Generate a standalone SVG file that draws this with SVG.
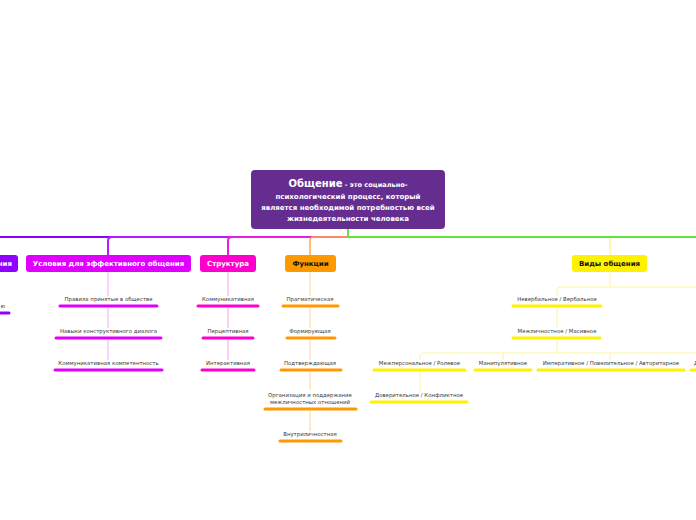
<svg xmlns="http://www.w3.org/2000/svg" width="696" height="520" viewBox="0 0 696 520">
<style>
.main{font-family:"DejaVu Sans",Verdana,sans-serif;font-weight:bold;font-size:7px;text-anchor:middle}
.sub{font-family:"DejaVu Sans",Verdana,sans-serif;font-size:5.4px;fill:#3a3a3a;text-anchor:middle}
.ul{stroke-width:3;stroke-linecap:round;fill:none}
.c{fill:none}
</style>
<rect width="696" height="520" fill="#ffffff"/>
<g id="connectors">
  <path class="c" d="M348 229 V237 H0" stroke="#8a00ff" stroke-width="2"/>
  <path class="c" d="M348 237 H112 Q108 237 108 241 V255" stroke="#b21cff" stroke-width="2"/>
  <path class="c" d="M348 237 H232 Q228 237 228 241 V255" stroke="#e81ee0" stroke-width="2"/>
  <path class="c" d="M348 237 H314 Q310 237 310 241 V255" stroke="#ffab40" stroke-width="1.5"/>
  <path class="c" d="M348 229 V237 H696" stroke="#5ee63a" stroke-width="2"/>
  <path class="c" d="M610 238 V255" stroke="#fff59a" stroke-width="1.5"/>
  <path class="c" d="M108 272 V296 M108 308 V328 M108 340 V360" stroke="#f7a6ff" stroke-width="1"/>
  <path class="c" d="M228 272 V296 M228 308 V328 M228 340 V360" stroke="#ff9ee8" stroke-width="1"/>
  <path class="c" d="M310 272 V296 M310 308 V328 M310 340 V360 M310 372 V390 M310 411 V431" stroke="#ffd39a" stroke-width="1"/>
  <path class="c" d="M610 272 V287 M696 287 H561 Q557 287 557 291 V296 M557 308 V328" stroke="#fff59a" stroke-width="1"/>
  <path class="c" d="M557 340 V353 M696 353 H424 Q420 353 420 357 V360 M503 353 V360 M610 353 V360 M420 372 V392" stroke="#fff59a" stroke-width="1"/>
</g>
<g id="center">
  <rect x="251" y="170" width="194" height="59" rx="4" fill="#662d91"/>
  <text class="main" x="348" y="187" fill="#ffffff"><tspan font-size="10">Общение</tspan><tspan font-size="6.6"> - это социально-</tspan></text>
  <text class="main" x="348" y="198.5" fill="#ffffff" font-size="6.6">психологический процесс, который</text>
  <text class="main" x="348" y="209.5" fill="#ffffff" font-size="6.6">является необходимой потребностью всей</text>
  <text class="main" x="348" y="220.5" fill="#ffffff" font-size="6.6">жизнедеятельности человека</text>
</g>
<g id="node-left">
  <rect x="-40" y="255" width="58" height="17" rx="3" fill="#8f00ff"/>
  <text class="main" x="12" y="266" fill="#ffffff" style="text-anchor:end">ния</text>
  <text class="sub" x="5" y="308" style="text-anchor:end">ю</text>
  <path class="ul" d="M-5 313 H9" stroke="#8f00ff"/>
</g>
<g id="node-usloviya">
  <rect x="26" y="255" width="165" height="17" rx="3" fill="#e100ff"/>
  <text class="main" x="108.5" y="266" fill="#ffffff">Условия для эффективного общения</text>
</g>
<g id="u1"><text class="sub" x="108.5" y="301">Правила принятые в обществе</text><path class="ul" d="M60 306 H157" stroke="#e100ff"/></g>
<g id="u2"><text class="sub" x="108.5" y="333">Навыки конструктивного диалога</text><path class="ul" d="M56 338 H161" stroke="#e100ff"/></g>
<g id="u3"><text class="sub" x="108.5" y="365">Коммуникативная компетентность</text><path class="ul" d="M55 370 H162" stroke="#e100ff"/></g>
<g id="node-struktura">
  <rect x="200" y="255" width="56" height="17" rx="3" fill="#ff00cc"/>
  <text class="main" x="228" y="266" fill="#ffffff">Структура</text>
</g>
<g id="s1"><text class="sub" x="228" y="301">Коммуникативная</text><path class="ul" d="M198 306 H258" stroke="#ff00cc"/></g>
<g id="s2"><text class="sub" x="228" y="333">Перцептивная</text><path class="ul" d="M203 338 H253" stroke="#ff00cc"/></g>
<g id="s3"><text class="sub" x="228" y="365">Интерактивная</text><path class="ul" d="M202 370 H254" stroke="#ff00cc"/></g>
<g id="node-funktsii">
  <rect x="285" y="255" width="51" height="17" rx="3" fill="#ff9900"/>
  <text class="main" x="310.5" y="266" fill="#111111">Функции</text>
</g>
<g id="f1"><text class="sub" x="310" y="301">Прагматическая</text><path class="ul" d="M283 306 H338" stroke="#ff9900"/></g>
<g id="f2"><text class="sub" x="310" y="333">Формирующая</text><path class="ul" d="M287 338 H335" stroke="#ff9900"/></g>
<g id="f3"><text class="sub" x="310" y="365">Подтверждающая</text><path class="ul" d="M281 370 H341" stroke="#ff9900"/></g>
<g id="f4"><text class="sub" x="310" y="397">Организация и поддержание</text><text class="sub" x="310" y="404">межличностных отношений</text><path class="ul" d="M265 409 H356" stroke="#ff9900"/></g>
<g id="f5"><text class="sub" x="310" y="436">Внутриличностная</text><path class="ul" d="M280 441 H341" stroke="#ff9900"/></g>
<g id="node-vidy">
  <rect x="572" y="255" width="75" height="17" rx="3" fill="#fff200"/>
  <text class="main" x="609.5" y="266" fill="#111111">Виды общения</text>
</g>
<g id="v1"><text class="sub" x="557" y="301">Невербальное / Вербальное</text><path class="ul" d="M513 306 H601" stroke="#fff200"/></g>
<g id="v2"><text class="sub" x="557" y="333">Межличностное / Масивное</text><path class="ul" d="M513 338 H600" stroke="#fff200"/></g>
<g id="v3"><text class="sub" x="419.5" y="365">Межперсональное / Ролевое</text><path class="ul" d="M374 370 H465" stroke="#fff200"/></g>
<g id="v4"><text class="sub" x="503" y="365">Манипулятивное</text><path class="ul" d="M475 370 H531" stroke="#fff200"/></g>
<g id="v5"><text class="sub" x="611" y="365">Императивное / Повелительное / Авторитарное</text><path class="ul" d="M538 370 H684" stroke="#fff200"/></g>
<g id="v6"><text class="sub" x="694" y="365" style="text-anchor:start">Д</text><path class="ul" d="M691 370 H700" stroke="#fff200"/></g>
<g id="v7"><text class="sub" x="419" y="397">Доверительное / Конфликтное</text><path class="ul" d="M371 402 H467" stroke="#fff200"/></g>
</svg>
